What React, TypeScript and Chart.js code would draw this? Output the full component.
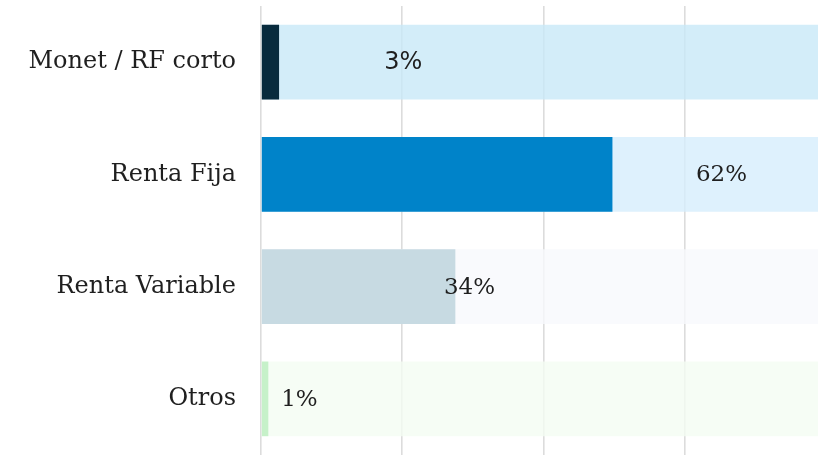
import React, { useEffect, useRef } from "react";
import { Chart, registerables } from "chart.js";

Chart.register(...registerables);

const categories = ["Monet / RF corto", "Renta Fija", "Renta Variable", "Otros"];
const values = [3.2, 62.2, 34.4, 1.3];
const totals = [100, 100, 100, 100];
const labelAt = [25.2, 81.5, 36.9, 6.8];
const barColors = ["#082b3d", "#0083c9", "#c7dae2", "#c6f1c9"];
const trackColors = [
  "rgba(200,232,248,0.8)",
  "rgba(214,238,252,0.8)",
  "rgba(247,249,252,0.8)",
  "rgba(244,252,242,0.8)",
];
const labelFonts = ["DejaVu Sans", "DejaVu Serif", "DejaVu Serif", "DejaVu Serif"];
const labelSizes = [24, 23, 23, 23];
const xTicks = [0, 25, 50, 75, 100];

export default function App() {
  const ref = useRef<HTMLCanvasElement | null>(null);

  useEffect(() => {
    document.body.style.margin = "0";
    document.body.style.overflow = "hidden";
    const canvas = ref.current;
    if (!canvas) return;

    const valueLabels = {
      id: "valueLabels",
      afterDatasetsDraw(chart: any) {
        const ctx = chart.ctx;
        const xs = chart.scales.x;
        const ys = chart.scales.y;
        ctx.save();
        ctx.fillStyle = "#1f1f1f";
        ctx.textAlign = "center";
        ctx.textBaseline = "middle";
        values.forEach((v, i) => {
          ctx.font = `${labelSizes[i]}px "${labelFonts[i]}"`;
          ctx.fillText(
            `${Math.round(v)}%`,
            xs.getPixelForValue(labelAt[i]),
            ys.getPixelForValue(i) + 1
          );
        });
        ctx.restore();
      },
    };

    const chart = new Chart(canvas, {
      type: "bar",
      data: {
        labels: categories,
        datasets: [
          {
            data: values,
            backgroundColor: barColors,
            grouped: false,
            categoryPercentage: 1,
            barPercentage: 0.665,
          } as any,
          {
            data: totals,
            backgroundColor: trackColors,
            grouped: false,
            categoryPercentage: 1,
            barPercentage: 0.665,
          } as any,
        ],
      },
      options: {
        indexAxis: "y",
        animation: false,
        responsive: true,
        maintainAspectRatio: false,
        layout: { padding: { top: 6, bottom: 0, left: 0, right: 0 } },
        plugins: {
          legend: { display: false },
          tooltip: { enabled: false },
        },
        scales: {
          x: {
            min: xTicks[0],
            max: xTicks[xTicks.length - 1],
            afterBuildTicks: (s: any) => {
              s.ticks = xTicks.map((v) => ({ value: v }));
            },
            ticks: { display: false },
            grid: { color: "#dcdcdc", lineWidth: 1.6, drawTicks: false },
            border: { display: false },
          },
          y: {
            afterFit: (s: any) => {
              s.width = 261;
              s.paddingTop = 0;
              s.paddingBottom = 0;
            },
            ticks: {
              padding: 25,
              color: "#1f1f1f",
              font: { family: "DejaVu Serif", size: 24 },
            },
            grid: { display: false, drawTicks: false },
            border: { display: false },
          },
        },
      },
      plugins: [valueLabels],
    });
    return () => chart.destroy();
  }, []);

  return (
    <div style={{ position: "relative", width: 826, height: 455 }}>
      <canvas ref={ref} />
    </div>
  );
}
